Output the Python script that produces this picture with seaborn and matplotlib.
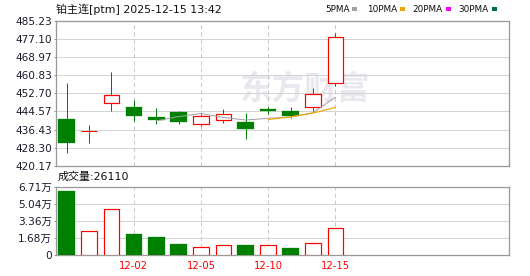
import numpy as np
import pandas as pd
import matplotlib
matplotlib.use("Agg")
import matplotlib.pyplot as plt
import seaborn as sns
from matplotlib.patches import Rectangle

# ---------------- data ----------------
dates = ['11-27', '11-28', '12-01', '12-02', '12-03', '12-04', '12-05',
         '12-08', '12-09', '12-10', '12-11', '12-12', '12-15']
opens = [441.2, 435.5, 448.2, 446.5, 442.1, 444.2, 438.8, 440.6, 439.8, 445.5, 444.8, 446.4, 457.5]
highs = [457.5, 438.5, 462.2, 449.6, 446.0, 444.8, 443.4, 445.5, 443.7, 446.7, 446.6, 455.1, 479.8]
lows = [426.0, 430.5, 444.9, 440.4, 438.8, 438.8, 438.1, 439.2, 432.3, 443.3, 441.5, 444.9, 456.1]
closes = [430.5, 435.6, 452.0, 442.7, 440.9, 440.0, 442.5, 443.3, 436.8, 444.9, 442.7, 452.3, 477.9]
volumes = [62900, 23300, 44900, 20600, 17700, 11100, 7600, 9800, 9800, 9800, 6900, 11800, 26110]
volume_up = [False, True, True, False, False, False, True, True, False, True, False, True, True]
ma5 = [np.nan, np.nan, np.nan, np.nan, 440.34, 442.24, 443.62, 441.88, 440.70, 441.50, 442.04, 444.00, 450.92]
ma10 = [np.nan] * 9 + [440.92, 442.14, 443.81, 446.40]

price_tick_labels = ['420.17', '428.30', '436.43', '444.57', '452.70', '460.83', '468.97', '477.10', '485.23']
vol_tick_values = [0, 16800, 33600, 50400, 67100]
vol_tick_labels = ['0', '1.68万', '3.36万', '5.04万', '6.71万']
date_ticks = ['12-02', '12-05', '12-10', '12-15']
ma_names = ['5PMA', '10PMA', '20PMA', '30PMA']
title = '铂主连[ptm] 2025-12-15 13:42'

# ---------------- style ----------------
sns.set_style("white")
plt.rcParams['font.family'] = ['DejaVu Sans', 'Noto Sans CJK SC']
plt.rcParams['lines.scale_dashes'] = False

RED = '#ff0000'
GREEN = '#008000'
GRID = '#d4d4d4'
SPINE = '#9a9a9a'
PX = 0.72  # one pixel in points at dpi=100
ma_colors = ['#a0a0a0', '#f2a600', '#ff00ff', '#006f3c']

W, H = 530, 276
fig = plt.figure(figsize=(W / 100, H / 100), dpi=100)
L, R = 55.5, 509.0
ax1 = fig.add_axes([L / W, 1 - 165.7 / H, (R - L) / W, (165.7 - 21.0) / H])
ax2 = fig.add_axes([L / W, 1 - 255.2 / H, (R - L) / W, (255.2 - 186.5) / H])

x = np.arange(len(dates))
xlim = (-0.5, 19.76)

df = pd.DataFrame({'x': x, 'date': dates, 'open': opens, 'high': highs, 'low': lows,
                   'close': closes, 'volume': volumes, 'vup': volume_up,
                   'ma5': ma5, 'ma10': ma10})

# ---------------- price panel ----------------
ptick = [float(s) for s in price_tick_labels]
ax1.set_xlim(*xlim)
ax1.set_ylim(ptick[0], ptick[-1])
for yv in ptick[1:-1]:
    ax1.axhline(yv, color=GRID, lw=1 * PX, zorder=1)
for d in date_ticks:
    xi = dates.index(d)
    ax1.axvline(xi, color='#c8c8c8', lw=1 * PX, dashes=(3.0, 2.2), zorder=1)

# watermark
ax1.text(304 / W, 1 - 89 / H, '东方财富', transform=fig.transFigure, ha='center', va='center',
         fontsize=23.5, fontweight='bold', color='#e8e8ee', family=['Noto Sans CJK SC'], zorder=0.5)

for _, r in df.iterrows():
    up = r['close'] >= r['open']
    col = RED if up else GREEN
    ax1.vlines(r['x'], r['low'], r['high'], color=col, lw=1 * PX, zorder=2)
    bottom = min(r['open'], r['close'])
    h = abs(r['close'] - r['open'])
    if up:
        if h < 0.3:
            ax1.hlines(r['close'], r['x'] - 0.37, r['x'] + 0.37, color=col, lw=1 * PX, zorder=3)
        else:
            ax1.bar(r['x'], h, bottom=bottom, width=0.69, facecolor='white', edgecolor=col,
                    lw=1.2 * PX, zorder=3)
    else:
        ax1.bar(r['x'], max(h, 0.02), bottom=bottom, width=0.745, facecolor=col, edgecolor=col,
                lw=0.3 * PX, zorder=3)

m5 = df.dropna(subset=['ma5'])
m10 = df.dropna(subset=['ma10'])
sns.lineplot(data=m5, x='x', y='ma5', ax=ax1, color=ma_colors[0], lw=1 * PX, zorder=4)
sns.lineplot(data=m10, x='x', y='ma10', ax=ax1, color=ma_colors[1], lw=1.2 * PX, zorder=4)

ax1.set_yticks(ptick)
ax1.set_yticklabels(price_tick_labels)
ax1.set_xticks([])
ax1.set_xlabel('')
ax1.set_ylabel('')
ax1.tick_params(axis='y', length=2 * PX, width=1 * PX, color=SPINE, pad=1.0,
                labelsize=7.6, labelcolor='#1a1a2e', left=True)

# ---------------- volume panel ----------------
ax2.set_xlim(*xlim)
ax2.set_ylim(vol_tick_values[0], vol_tick_values[-1])
for yv in vol_tick_values[1:-1]:
    ax2.axhline(yv, color=GRID, lw=1 * PX, zorder=1)
for d in date_ticks:
    xi = dates.index(d)
    ax2.axvline(xi, color='#c8c8c8', lw=1 * PX, dashes=(3.0, 2.2), zorder=1)

for _, r in df.iterrows():
    if r['vup']:
        ax2.bar(r['x'], r['volume'], width=0.69, facecolor='white', edgecolor=RED,
                lw=1.2 * PX, zorder=3)
    else:
        ax2.bar(r['x'], r['volume'], width=0.745, facecolor=GREEN, edgecolor=GREEN,
                lw=0.3 * PX, zorder=3)

ax2.set_yticks(vol_tick_values)
ax2.set_yticklabels(vol_tick_labels)
ax2.set_xticks([dates.index(d) for d in date_ticks])
ax2.set_xticklabels(date_ticks)
ax2.tick_params(axis='y', length=2 * PX, width=1 * PX, color=SPINE, pad=1.0,
                labelsize=7.6, labelcolor='#1a1a2e', left=True)
ax2.tick_params(axis='x', length=0, pad=4.5, labelsize=7.2, labelcolor=RED)

for ax in (ax1, ax2):
    for s in ax.spines.values():
        s.set_color(SPINE)
        s.set_linewidth(1.3 * PX)
        s.set_visible(True)
    ax.set_facecolor('white')

# ---------------- texts ----------------
fig.text(56 / W, 1 - 9.5 / H, title, ha='left', va='center', fontsize=7.9, color='#111111')
fig.text(57.5 / W, 1 - 177 / H, '成交量:' + str(volumes[-1]), ha='left', va='center',
         fontsize=7.9, color='#111111')

# legend
leg_x = [325, 367.3, 412.7, 458.3]
sq_x = [351.7, 400.0, 446.0, 491.7]
for name, c, lx, sx in zip(ma_names, ma_colors, leg_x, sq_x):
    fig.text(lx / W, 1 - 9.5 / H, name, ha='left', va='center', fontsize=6.4, color='#111111')
    fig.patches.append(Rectangle((sx / W, 1 - 10.5 / H), 5 / W, 3 / H, transform=fig.transFigure,
                                 facecolor=c, edgecolor='none'))

fig.savefig('out.png', dpi=100)
